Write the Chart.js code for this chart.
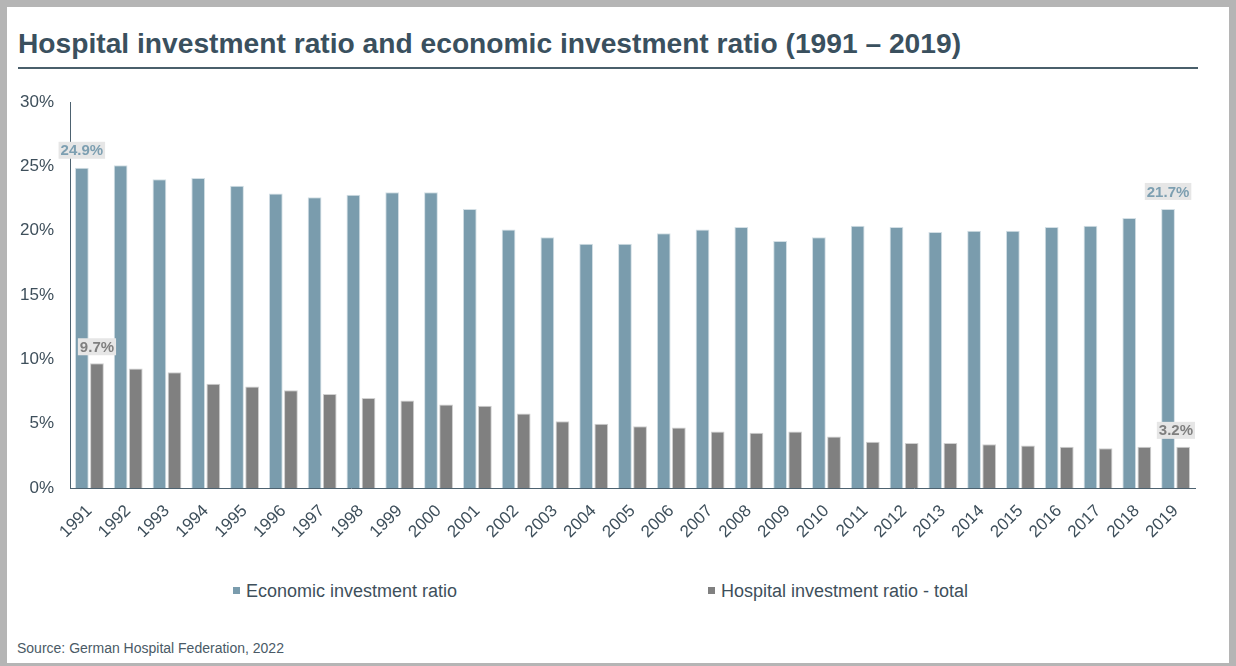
<!DOCTYPE html>
<html lang="en">
<head>
  <meta charset="UTF-8">
  <title>Hospital investment ratio and economic investment ratio</title>
  <script src="https://cdn.jsdelivr.net/npm/chart.js"></script>
  <style>
    body {
      margin: 0;
      width: 1236px;
      height: 666px;
      overflow: hidden;
      background: #fff;
      font-family: "Liberation Sans", Arial, sans-serif;
      color: #3e4f5b;
    }
    .frame {
      position: absolute;
      left: 0;
      top: 0;
      width: 1236px;
      height: 670px;
      box-sizing: border-box;
      border: 7px solid #b5b5b5;
    }
    h1 {
      position: absolute;
      left: 18px;
      top: 29px;
      margin: 0;
      font-size: 28.2px;
      line-height: 28px;
      font-weight: bold;
      color: #3a505e;
      white-space: nowrap;
    }
    .rule {
      position: absolute;
      left: 18px;
      top: 67px;
      width: 1180px;
      height: 2px;
      background: #4a5f6b;
    }
    #chartBox {
      position: absolute;
      left: 0;
      top: 84px;
      width: 1236px;
      height: 470px;
    }
    .legend-item {
      position: absolute;
      top: 581px;
      font-size: 18px;
      line-height: 20px;
      white-space: nowrap;
    }
    .legend-item span {
      display: inline-block;
      width: 7px;
      height: 7px;
      margin-right: 6px;
      vertical-align: 3px;
    }
    .source {
      position: absolute;
      left: 17px;
      top: 640px;
      font-size: 14px;
      color: #4a5a66;
    }
  </style>
</head>
<body>
  <div class="frame"></div>
  <h1>Hospital investment ratio and economic investment ratio (1991 – 2019)</h1>
  <div class="rule"></div>

  <div id="chartBox">
    <canvas id="ratioChart"></canvas>
  </div>

  <div class="legend-item" style="left:233px"><span style="background:#7a9cad"></span>Economic investment ratio</div>
  <div class="legend-item" style="left:708px"><span style="background:#808080"></span>Hospital investment ratio - total</div>

  <div class="source">Source: German Hospital Federation, 2022</div>

  <script>
    const years = ['1991', '1992', '1993', '1994', '1995', '1996', '1997', '1998', '1999', '2000',
                   '2001', '2002', '2003', '2004', '2005', '2006', '2007', '2008', '2009', '2010',
                   '2011', '2012', '2013', '2014', '2015', '2016', '2017', '2018', '2019'];

    // investment ratios in percent
    const economicRatio = [24.9, 25.1, 24.0, 24.1, 23.5, 22.9, 22.6, 22.8, 23.0, 23.0,
                           21.7, 20.1, 19.5, 19.0, 19.0, 19.8, 20.1, 20.3, 19.2, 19.5,
                           20.4, 20.3, 19.9, 20.0, 20.0, 20.3, 20.4, 21.0, 21.7];
    const hospitalRatio = [9.7, 9.3, 9.0, 8.1, 7.9, 7.6, 7.3, 7.0, 6.8, 6.5,
                           6.4, 5.8, 5.2, 5.0, 4.8, 4.7, 4.4, 4.3, 4.4, 4.0,
                           3.6, 3.5, 3.5, 3.4, 3.3, 3.2, 3.1, 3.2, 3.2];

    const yMax = 30;
    const yStep = 5;

    // only the first and last year get a value label
    const labeledYears = ['1991', '2019'];

    const valueLabels = {
      id: 'valueLabels',
      afterDatasetsDraw(chart) {
        const ctx = chart.ctx;
        ctx.save();
        ctx.font = 'bold 15px "Liberation Sans", Arial, sans-serif';
        ctx.textAlign = 'center';
        ctx.textBaseline = 'middle';
        chart.data.datasets.forEach((ds, i) => {
          const meta = chart.getDatasetMeta(i);
          labeledYears.forEach(year => {
            const idx = chart.data.labels.indexOf(year);
            const bar = meta.data[idx];
            const text = ds.data[idx].toFixed(1) + '%';
            const w = ctx.measureText(text).width + 4;
            const h = 17;
            let x = bar.x;
            x = Math.min(x, chart.chartArea.right - w / 2);
            const y = bar.y - ds.labelGap - h / 2;
            ctx.fillStyle = '#e6e6e6';
            ctx.fillRect(x - w / 2, y - h / 2, w, h);
            ctx.fillStyle = ds.labelColor;
            ctx.fillText(text, x, y + 1);
          });
        });
        ctx.restore();
      }
    };

    const ctx = document.getElementById('ratioChart').getContext('2d');
    new Chart(ctx, {
      type: 'bar',
      data: {
        labels: years,
        datasets: [
          {
            label: 'Economic investment ratio',
            data: economicRatio,
            backgroundColor: '#7a9cad',
            borderColor: '#d3dfe5',
            borderWidth: 1,
            borderSkipped: 'bottom',
            labelColor: '#7d9fb1',
            labelGap: 9
          },
          {
            label: 'Hospital investment ratio - total',
            data: hospitalRatio,
            backgroundColor: '#808080',
            borderColor: '#d0d0d0',
            borderWidth: 1,
            borderSkipped: 'bottom',
            labelColor: '#7f7f7f',
            labelGap: 8
          }
        ]
      },
      options: {
        responsive: true,
        maintainAspectRatio: false,
        animation: false,
        categoryPercentage: 0.78,
        barPercentage: 0.91,
        layout: {
          padding: { top: 0, right: 41, left: 0, bottom: 0 }
        },
        plugins: {
          legend: { display: false },
          tooltip: { enabled: false }
        },
        scales: {
          x: {
            grid: { display: false },
            border: { display: true, color: '#4d6270', width: 1 },
            ticks: {
              autoSkip: false,
              minRotation: 45,
              maxRotation: 45,
              color: '#3e4f5b',
              padding: 5,
              font: { family: '"Liberation Sans", Arial, sans-serif', size: 17 }
            },
            afterFit(scale) { scale.height = 66; }
          },
          y: {
            min: 0,
            max: yMax,
            grid: { display: false },
            border: { display: true, color: '#4d6270', width: 1 },
            ticks: {
              stepSize: yStep,
              color: '#3e4f5b',
              padding: 8,
              font: { family: '"Liberation Sans", Arial, sans-serif', size: 17 },
              callback: v => v + '%'
            },
            afterFit(scale) { scale.width = 70; }
          }
        }
      },
      plugins: [valueLabels]
    });
  </script>
</body>
</html>
